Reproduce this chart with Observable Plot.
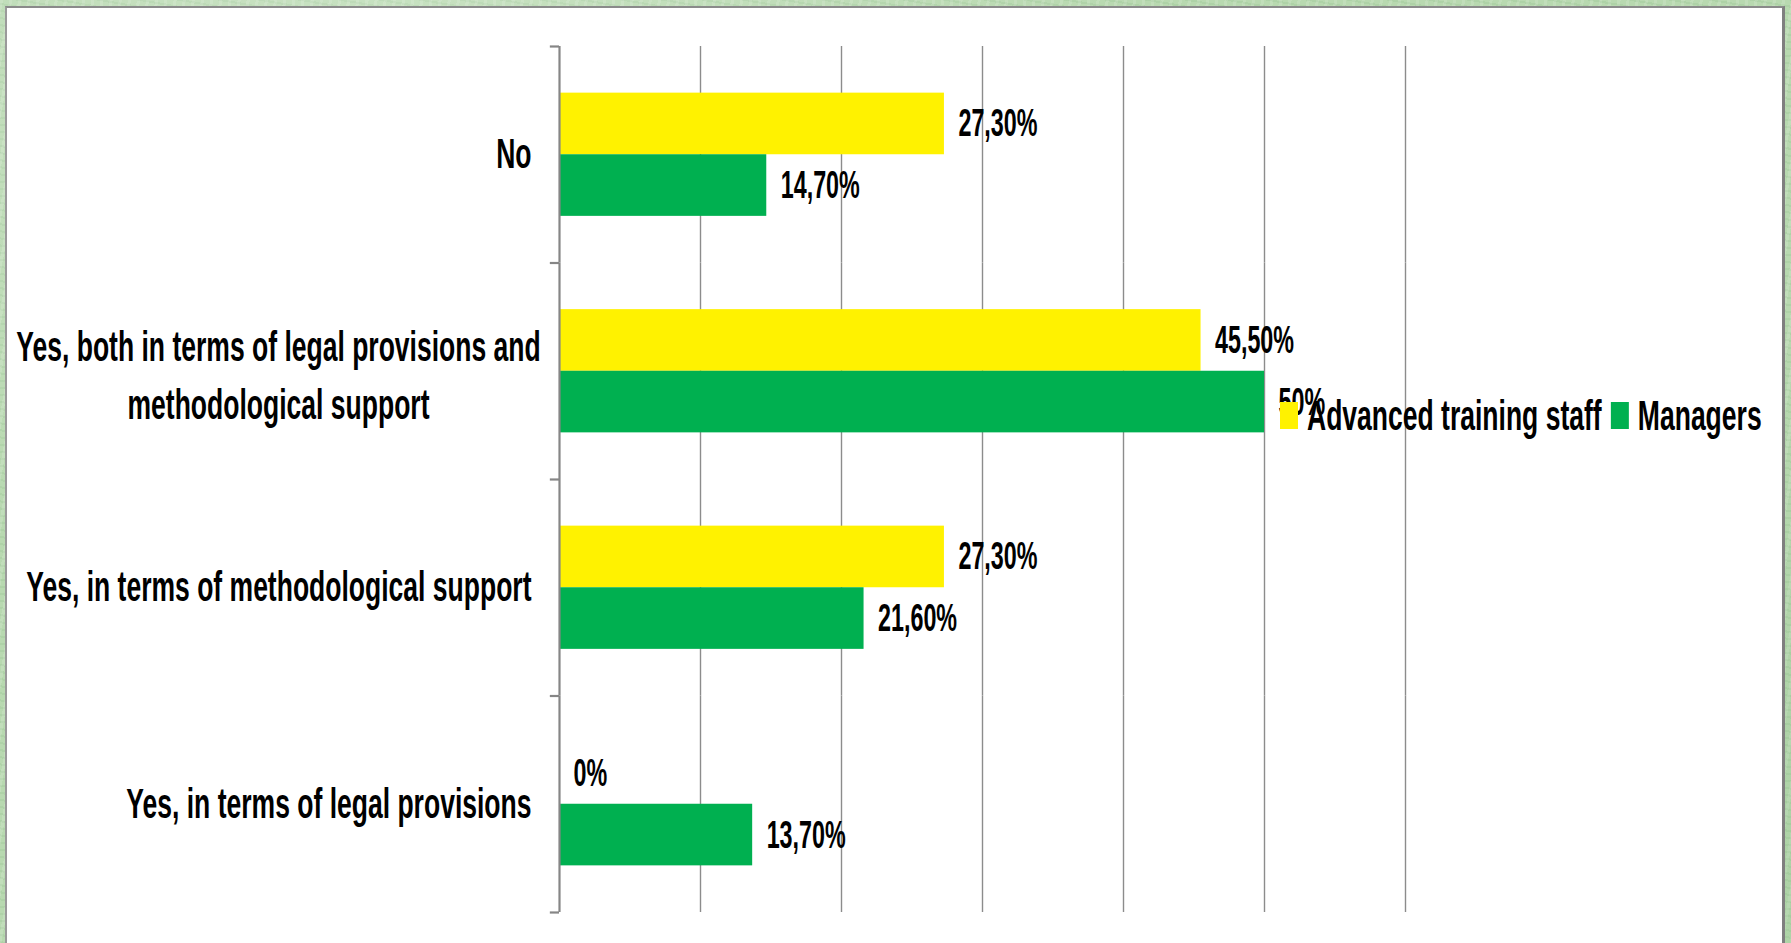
<!DOCTYPE html>
<html>
<head>
<meta charset="utf-8">
<script src="https://cdn.jsdelivr.net/npm/d3@7"></script>
<script src="https://cdn.jsdelivr.net/npm/@observablehq/plot@0.6"></script>
<style>
  html, body { margin: 0; padding: 0; width: 1791px; height: 943px; overflow: hidden; }
  body {
    background-color: #b8d9b0;
    background-image:
      radial-gradient(ellipse at 20% 10%, rgba(255,255,255,0.25), rgba(255,255,255,0) 40%),
      radial-gradient(ellipse at 80% 90%, rgba(120,180,120,0.25), rgba(120,180,120,0) 45%),
      repeating-linear-gradient(100deg, rgba(255,255,255,0.12) 0 3px, rgba(0,0,0,0) 3px 9px),
      repeating-linear-gradient(10deg, rgba(90,150,90,0.10) 0 2px, rgba(0,0,0,0) 2px 7px);
  }
  #panel {
    position: absolute; left: 5px; top: 6px; width: 1775px; height: 1000px;
    background: #fff;
    border-top: 2px solid #8a8a8a; border-left: 2px solid #9a9a9a; border-right: 3px solid #7f7f7f;
  }
  #chart { position: absolute; left: 0; top: 0; }
</style>
</head>
<body>
<div id="panel"></div>
<div id="chart"></div>
<script>
// ---- data ----
const categories = [
  "No",
  "Yes, both in terms of legal provisions and\nmethodological support",
  "Yes, in terms of methodological support",
  "Yes, in terms of legal provisions"
];
const seriesNames = ["Advanced training staff", "Managers"];
const advancedTraining = [27.3, 45.5, 27.3, 0];
const managers = [14.7, 50, 21.6, 13.7];
const xTicks = [0, 10, 20, 30, 40, 50, 60];
const seriesColors = ["#fff200", "#00b050"];

const rows = categories.flatMap((c, i) => [
  {category: c, series: seriesNames[0], value: advancedTraining[i]},
  {category: c, series: seriesNames[1], value: managers[i]}
]);
const fmt = v => Number.isInteger(v) ? `${v}%` : `${v.toFixed(2).replace(".", ",")}%`;

// ---- layout ----
const W = 1791, H = 943;
const mTop = 46, mBottom = 31, mLeft = 559, mRight = 386;
const facetH = (H - mTop - mBottom) / categories.length;
const FONT = "'Liberation Sans Narrow', 'Liberation Sans', Arial, sans-serif";
const CAT_SIZE = 42, VAL_SIZE = 39;
const axisGray = "#868686";
const isMulti = c => c.includes("\n");

const chart = Plot.plot({
  width: W, height: H,
  marginTop: mTop, marginBottom: mBottom, marginLeft: mLeft, marginRight: mRight,
  style: {background: "transparent", fontFamily: FONT, fontWeight: "bold", color: "#000", overflow: "visible"},
  x: {domain: [0, 60], axis: null},
  fy: {domain: categories, padding: 0, axis: null, round: false},
  y: {domain: seriesNames, paddingInner: 0, paddingOuter: 0.757, axis: null, round: false},
  color: {domain: seriesNames, range: seriesColors},
  marks: [
    Plot.ruleX(xTicks.filter(t => t > 0), {stroke: "#8c8c8c", strokeWidth: 1.4}),
    Plot.barX(rows, {fy: "category", y: "series", x: "value", fill: "series"}),
    Plot.text(rows, {fy: "category", y: "series", x: "value", text: d => fmt(d.value),
      textAnchor: "start", dx: 14, fontSize: VAL_SIZE, fill: "#000"}),
    Plot.ruleX([0], {stroke: axisGray, strokeWidth: 2.2}),
    Plot.ruleY(categories, {fy: d => d, y: null, x1: -0.65, x2: 0, dy: -facetH / 2, stroke: axisGray, strokeWidth: 2.2}),
    Plot.ruleY(categories.slice(-1), {fy: d => d, y: null, x1: -0.65, x2: 0, dy: facetH / 2, stroke: axisGray, strokeWidth: 2.2}),
    Plot.text(categories.filter(c => !isMulti(c)), {fy: d => d, text: d => d, frameAnchor: "left",
      textAnchor: "end", dx: -28, fontSize: CAT_SIZE, fill: "#000"}),
    Plot.text(categories.filter(isMulti), {fy: d => d, text: d => d, frameAnchor: "left",
      textAnchor: "middle", dx: -281, fontSize: CAT_SIZE, lineHeight: 1.4, fill: "#000"})
  ]
});
document.getElementById("chart").append(chart);

// ---- condensed text (the source uses a tall condensed bold face) ----
const svg = d3.select(chart);
function measure(str, size) {
  const t = svg.append("text").attr("font-size", size).attr("font-family", FONT)
    .attr("font-weight", "bold").attr("text-anchor", "start").text(str);
  const w = t.node().getComputedTextLength();
  t.remove();
  return w;
}
const fCat = 196 / measure("methodological", CAT_SIZE);
const fVal = 79 / measure("27,30%", VAL_SIZE);

// wrap a text in a group that squeezes it horizontally about its anchor point
function compress(el, f) {
  const r = el.getBoundingClientRect();
  const anchor = getComputedStyle(el).textAnchor;
  const sx = anchor === "end" ? r.right : anchor === "middle" ? (r.left + r.right) / 2 : r.left;
  const parent = el.parentNode;
  const pt = chart.createSVGPoint();
  pt.x = sx; pt.y = r.top;
  const p = pt.matrixTransform(parent.getScreenCTM().inverse());
  const g = document.createElementNS("http://www.w3.org/2000/svg", "g");
  g.setAttribute("transform", `translate(${p.x},0) scale(${f},1) translate(${-p.x},0)`);
  parent.insertBefore(g, el);
  g.appendChild(el);
}

svg.selectAll("text").nodes().forEach(el => {
  const fs = parseFloat(getComputedStyle(el).fontSize);
  compress(el, Math.abs(fs - VAL_SIZE) < 0.5 ? fVal : fCat);
});

// ---- legend (sits inside the plot area, as in the source) ----
const leg = svg.append("g").attr("font-family", FONT).attr("font-weight", "bold")
  .attr("font-size", CAT_SIZE).attr("text-anchor", "start");
let lx = 1280;
seriesNames.forEach((s, i) => {
  leg.append("rect").attr("x", lx).attr("y", 402).attr("width", 18).attr("height", 27).attr("fill", seriesColors[i]);
  lx += 27;
  const t = leg.append("text").attr("x", lx).attr("y", 430).attr("fill", "#000").text(s);
  compress(t.node(), fCat);
  const r = t.node().getBoundingClientRect();
  lx = r.right + 9;
});
</script>
</body>
</html>
